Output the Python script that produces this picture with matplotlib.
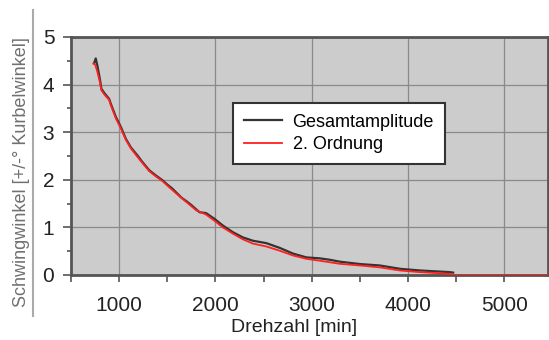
# Schwingwinkel ueber Drehzahl
import numpy as np
import matplotlib
matplotlib.use('Agg')
import matplotlib.pyplot as plt
from matplotlib.lines import Line2D

drehzahl_ges = [740, 757, 774, 802, 816, 851, 896, 913, 966, 1018, 1070, 1122,
                1191, 1243, 1313, 1382, 1451, 1500, 1550, 1600, 1650, 1700, 1750,
                1800, 1834, 1903, 1990, 2077, 2181, 2285, 2389, 2528, 2668, 2806,
                2945, 3084, 3188, 3293, 3501, 3709, 3918, 4126, 4438, 4470]
gesamt = [4.45, 4.55, 4.40, 4.09, 3.91, 3.81, 3.70, 3.60, 3.32, 3.11, 2.86, 2.68,
          2.51, 2.37, 2.20, 2.09, 1.99, 1.90, 1.82, 1.72, 1.62, 1.55, 1.47,
          1.38, 1.32, 1.30, 1.18, 1.04, 0.90, 0.79, 0.72, 0.67, 0.57, 0.45,
          0.37, 0.35, 0.32, 0.28, 0.23, 0.20, 0.13, 0.095, 0.06, 0.05]

drehzahl_2ord = [732, 750, 770, 800, 816, 851, 896, 913, 966, 1018, 1070, 1122,
                 1191, 1243, 1313, 1382, 1451, 1500, 1600, 1700, 1800, 1903, 1990,
                 2077, 2181, 2285, 2389, 2528, 2668, 2806, 2945, 3084, 3293, 3501,
                 3709, 3918, 4126, 4438, 4480, 5500]
ordnung2 = [4.44, 4.42, 4.30, 4.05, 3.88, 3.78, 3.68, 3.57, 3.29, 3.08, 2.84, 2.66,
            2.48, 2.35, 2.18, 2.07, 1.97, 1.88, 1.70, 1.53, 1.36, 1.27, 1.14,
            1.00, 0.87, 0.75, 0.66, 0.60, 0.51, 0.41, 0.34, 0.30, 0.235, 0.20,
            0.16, 0.095, 0.06, 0.025, 0.0, 0.0]

x_ticks = [1000, 2000, 3000, 4000, 5000]
y_ticks = [0, 1, 2, 3, 4, 5]

plt.rcParams['font.family'] = ['Liberation Sans Narrow', 'Liberation Sans', 'DejaVu Sans']

fig = plt.figure(figsize=(5.49, 3.40), dpi=100)
W, H = 549, 340
ax = fig.add_axes([71 / W, 1 - 275 / H, 476.5 / W, 238 / H])
ax.set_facecolor('#cccccc')

ax.plot(drehzahl_ges, gesamt, color='#333333', lw=1.6, label='Gesamtamplitude', zorder=3)
ax.plot(drehzahl_2ord, ordnung2, color='#ff2020', lw=1.3, label='2. Ordnung', zorder=4)

ax.set_xlim(500, 5450)
ax.set_ylim(0, 5)
ax.set_xticks(x_ticks)
ax.set_xticks(np.arange(500, 5500, 500), minor=True)
ax.set_yticks(y_ticks)
ax.set_yticks(np.arange(0, 5.01, 0.5), minor=True)

ax.grid(True, which='major', color='#8a8a8a', lw=0.9)
ax.set_axisbelow(True)
for s in ax.spines.values():
    s.set_color('#555555')
    s.set_linewidth(2)

ax.tick_params(axis='x', which='both', direction='out', length=5, width=1.2,
               color='#555555', labelsize=15, pad=10, labelcolor='#222222')
ax.tick_params(axis='y', which='major', direction='out', length=6, width=1.2,
               color='#555555', labelsize=15, pad=6, labelcolor='#222222')
ax.tick_params(axis='y', which='minor', direction='out', length=3, width=1.2,
               color='#555555')

ax.set_xlabel('Drehzahl [min]', fontsize=14, color='#222222')
ax.xaxis.set_label_coords((294 - 71) / 476.5, -(327 - 275) / 238, transform=ax.transAxes)
ax.xaxis.label.set_va('center')

fig.text(22 / W, 1 - 172 / H, 'Schwingwinkel [+/-° Kurbelwinkel]', rotation=90,
         ha='center', va='center', fontsize=13, color='#707070')
fig.add_artist(Line2D([33 / W, 33 / W], [1 - 10 / H, 1 - 316 / H],
                      color='#aaaaaa', lw=1.5))

leg = ax.legend(loc='upper left', bbox_to_anchor=(0.34, 0.723), fontsize=13,
                frameon=True, fancybox=False, framealpha=1, edgecolor='#333333',
                handlelength=2.1, handletextpad=0.6, borderpad=0.6,
                labelspacing=0.3, borderaxespad=0)
leg.get_frame().set_linewidth(1.5)

fig.savefig('out.png', dpi=100)
